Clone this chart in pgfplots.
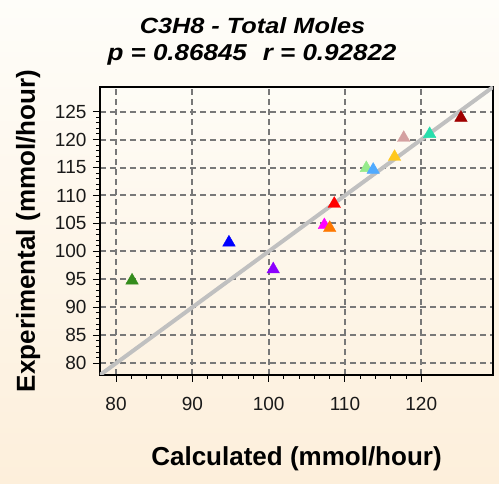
\documentclass[border=0pt]{standalone}
\usepackage{graphicx}
\usepackage{pgfplots}
\pgfplotsset{compat=1.18}
\usepackage{fontspec}
\setmainfont{Liberation Sans}

\definecolor{bgtop}{RGB}{254,253,249}
\definecolor{bgbot}{RGB}{253,239,219}
\definecolor{pltop}{RGB}{254,252,246}
\definecolor{plbot}{RGB}{253,242,226}
\definecolor{gridgray}{RGB}{120,120,120}
\definecolor{diag}{RGB}{192,192,192}
\definecolor{cA}{RGB}{52,140,28}
\definecolor{cB}{RGB}{0,0,255}
\definecolor{cC}{RGB}{140,0,255}
\definecolor{cD}{RGB}{255,0,255}
\definecolor{cE}{RGB}{255,120,0}
\definecolor{cF}{RGB}{255,0,0}
\definecolor{cG}{RGB}{150,235,140}
\definecolor{cH}{RGB}{80,170,255}
\definecolor{cI}{RGB}{255,200,30}
\definecolor{cJ}{RGB}{212,160,160}
\definecolor{cK}{RGB}{40,222,172}
\definecolor{cL}{RGB}{160,0,0}

\begin{document}
\begin{tikzpicture}[x=1pt,y=1pt]
  % page background
  \shade[top color=bgtop, bottom color=bgbot] (0,0) rectangle (499,484);
  \useasboundingbox (0,0) rectangle (499,484);

  % two-line title
  \node[anchor=base, font=\fontsize{22}{25}\selectfont\bfseries\itshape] at (252.5,450)
    {\scalebox{1.15}[1]{C3H8 - Total Moles}};
  \node[anchor=base, font=\fontsize{23}{26}\selectfont\bfseries\itshape] at (252,423)
    {\scalebox{1.13}[1]{p = 0.86845\hspace{14pt}r = 0.92822}};

  \begin{axis}[
    at={(100pt,109pt)}, anchor=south west,
    scale only axis, width=393pt, height=288pt,
    xmin=77.9, xmax=129.4, ymin=77.9, ymax=129.4,
    xtick={80,90,...,120}, ytick={80,85,...,125},
    minor x tick num=4, minor y tick num=4,
    tick align=outside,
    xtick pos=bottom, ytick pos=left,
    major tick length=7pt, minor tick length=4pt,
    every tick/.style={black, line width=1pt},
    axis line style={black, line width=2.5pt},
    grid=major,
    grid style={gridgray, line width=2pt, dash pattern=on 6pt off 4pt},
    major grid style={gridgray, line width=2pt, dash pattern=on 6pt off 4pt},
    axis background/.style={top color=pltop, bottom color=plbot},
    /pgf/number format/assume math mode=true,
    tick label style={font=\fontsize{19}{22}\selectfont, text=black!90},
    xticklabel style={yshift=-12pt},
    yticklabel style={xshift=-3pt},
    xlabel={Calculated (mmol/hour)},
    ylabel={Experimental (mmol/hour)},
    label style={font=\fontsize{26}{29}\selectfont\bfseries},
    xlabel style={at={(axis description cs:0.5,-0.29)}, anchor=center},
    ylabel style={at={(axis description cs:-0.183,0.5)}, anchor=center, rotate=0},
    clip=true,
  ]
    % parity line y = x
    \addplot[diag, line width=4pt, forget plot] coordinates {(77.9,77.9) (129.4,129.4)};

    \addplot[only marks, mark=triangle*, mark size=7.2pt, color=cA] coordinates {(82.1,94.8)};
    \addplot[only marks, mark=triangle*, mark size=7.2pt, color=cB] coordinates {(94.8,101.6)};
    \addplot[only marks, mark=triangle*, mark size=7.2pt, color=cC] coordinates {(100.6,96.8)};
    \addplot[only marks, mark=triangle*, mark size=7.2pt, color=cD] coordinates {(107.3,104.7)};
    \addplot[only marks, mark=triangle*, mark size=7.2pt, color=cE] coordinates {(108.0,104.2)};
    \addplot[only marks, mark=triangle*, mark size=7.2pt, color=cF] coordinates {(108.6,108.5)};
    \addplot[only marks, mark=triangle*, mark size=7.2pt, color=cG] coordinates {(112.8,114.9)};
    \addplot[only marks, mark=triangle*, mark size=7.2pt, color=cH] coordinates {(113.7,114.6)};
    \addplot[only marks, mark=triangle*, mark size=7.2pt, color=cI] coordinates {(116.5,116.9)};
    \addplot[only marks, mark=triangle*, mark size=7.2pt, color=cJ] coordinates {(117.7,120.3)};
    \addplot[only marks, mark=triangle*, mark size=7.2pt, color=cK] coordinates {(121.1,121.0)};
    \addplot[only marks, mark=triangle*, mark size=7.2pt, color=cL] coordinates {(125.2,123.9)};
  \end{axis}
\end{tikzpicture}
\end{document}
